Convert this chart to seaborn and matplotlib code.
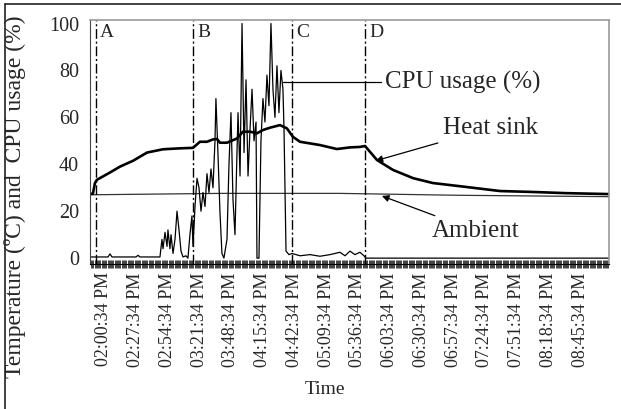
import matplotlib
matplotlib.use("Agg")
import matplotlib.pyplot as plt
from matplotlib.lines import Line2D
from matplotlib.ticker import MultipleLocator, FixedLocator
import seaborn as sns
import pandas as pd

# Minutes after 02:00:34 PM
cpu_t = [-11.9, -3.4, 3.4, 5.1, 6.8, 27.2, 28.9, 30.6, 47.6, 49.3, 50.2, 51.9, 53.6,
         54.4, 56.1, 57.0, 58.7, 60.4, 62.1, 63.8, 65.5, 67.2, 69.7, 71.4, 73.1, 74.8,
         75.7, 77.4, 79.1, 80.8, 82.5, 84.2, 85.9, 87.6, 89.3, 91.0, 92.7, 94.4, 95.2,
         96.9, 98.6, 100.3, 102.0, 104.6, 106.3, 108.0, 109.7, 111.4, 113.1, 114.0,
         115.7, 117.4, 119.1, 120.8, 122.5, 124.2, 125.9, 127.6, 129.3, 130.1, 131.8,
         133.5, 135.2, 136.9, 138.6, 140.3, 142.0, 143.7, 145.4, 147.1, 148.8, 150.5,
         152.2, 153.1, 154.8, 157.3, 159.9, 166.7, 175.2, 183.7, 192.2, 200.7, 205.0,
         209.2, 213.4, 217.7, 221.1, 222.8, 429.5]
cpu_v = [0.5, 0.5, 0.5, 1.8, 0.5, 0.5, 1.2, 0.5, 0.5, 8, 4, 11, 5,
         12, 4, 10, 2, 8, 20, 12, 3, 0.5, 1, 0, 10, 18,
         5, 22, 34, 30, 20, 28, 22, 36, 28, 38, 30, 50, 68,
         45, 20, 2, 0, 8, 40, 62, 25, 10, 45, 62,
         35, 100, 45, 76, 35, 55, 72, 50, 58, 0, 0,
         50, 68, 58, 78, 65, 100, 72, 60, 82, 62, 80,
         72, 55, 3, 1.5, 2, 1, 1.5, 0.8, 1.5, 2.5, 1,
         3, 1.5, 2.5, 1, 0, 0]

sink_t = [-11.9, -9.4, -7.7, -6.0, 5.1, 13.6, 24.7, 36.6, 50.2, 64.6, 75.7, 81.6, 87.6,
          92.7, 96.1, 98.6, 104.6, 113.1, 118.2, 124.2, 130.1, 135.2, 141.2, 149.7,
          155.6, 160.7, 166.7, 183.7, 198.1, 209.2, 217.7, 222.0, 232.2, 245.8, 262.8,
          279.8, 308.7, 336.8, 364.8, 393.1, 429.5]
sink_v = [27.3, 27.5, 32, 33.4, 36.5, 39, 41.5, 45, 46.4, 46.8, 47, 49.6, 49.6,
          50.6, 50.8, 49.2, 49.2, 51, 53.9, 53.9, 53.2, 54.6, 55.6, 56.7,
          55.3, 51.7, 49.6, 48.2, 46.5, 47.2, 47.4, 47.8, 41.8, 37.6, 34.1,
          32, 30.3, 28.6, 28.2, 27.7, 27.3]

amb_t = [-11.9, 100, 200, 300, 429.5]
amb_v = [27.0, 27.6, 27.6, 26.8, 26.2]

phase_t = [-6.8, 75.7, 159.9, 222.0]
phase_names = ["A", "B", "C", "D"]

tick_t = [0, 27, 54, 81, 108, 135, 162, 189, 216, 243, 270, 297, 324, 351, 378, 405]
tick_labels = ["02:00:34 PM", "02:27:34 PM", "02:54:34 PM", "03:21:34 PM",
               "03:48:34 PM", "04:15:34 PM", "04:42:34 PM", "05:09:34 PM",
               "05:36:34 PM", "06:03:34 PM", "06:30:34 PM", "06:57:34 PM",
               "07:24:34 PM", "07:51:34 PM", "08:18:34 PM", "08:45:34 PM"]

sns.set_style("white")
plt.rcParams["font.family"] = ["Liberation Serif", "DejaVu Serif"]

W, H = 621, 409
fig = plt.figure(figsize=(W / 100, H / 100), dpi=100)
ax = fig.add_axes([90 / W, 1 - 264 / H, (609 - 90) / W, (264 - 20) / H])

cpu = pd.DataFrame({"t": cpu_t, "v": cpu_v})
sink = pd.DataFrame({"t": sink_t, "v": sink_v})
amb = pd.DataFrame({"t": amb_t, "v": amb_v})

sns.lineplot(data=amb, x="t", y="v", ax=ax, color="#333333", lw=0.9,
             estimator=None, sort=False)
sns.lineplot(data=cpu, x="t", y="v", ax=ax, color="black", lw=0.9,
             estimator=None, sort=False)
sns.lineplot(data=sink, x="t", y="v", ax=ax, color="black", lw=1.9,
             estimator=None, sort=False)

for t, name in zip(phase_t, phase_names):
    ax.axvline(t, color="black", lw=1.0, linestyle=(0, (7, 2, 1.5, 2)))
    ax.annotate(name, xy=(t, 1), xycoords=("data", "axes fraction"),
                xytext=(3, -3), textcoords="offset points",
                ha="left", va="top", fontsize=14)

ax.set_xlim(-11.9, 429.5)
ax.set_ylim(-2.5, 101.5)
ax.set_yticks([0, 20, 40, 60, 80, 100])
ax.tick_params(axis="y", length=0, pad=8, labelsize=14.5)
ax.xaxis.set_major_locator(FixedLocator(tick_t))
ax.set_xticklabels(tick_labels, rotation=90)
ax.xaxis.set_minor_locator(MultipleLocator(1))
ax.tick_params(axis="x", which="both", bottom=True, direction="inout", length=6,
               width=0.6, color="#222222", labelsize=13, pad=3)
ax.set_xlabel("")
ax.set_ylabel("")

for side in ["top", "right"]:
    ax.spines[side].set_color("#999999")
    ax.spines[side].set_linewidth(1.2)
ax.spines["left"].set_color("#444444")
ax.spines["bottom"].set_color("black")

ann = dict(fontsize=18, ha="left", va="center")
ax.plot([152.2, 235.6], [75.1, 75.1], color="black", lw=0.9)
ax.text(239, 74.7, "CPU usage (%)", **ann)
ax.annotate("Heat sink", xy=(231, 41.5), xytext=(288.3, 55.5),
            arrowprops=dict(arrowstyle="-|>", color="black", lw=0.9,
                            mutation_scale=10, shrinkA=2, shrinkB=0), **ann)
ax.annotate("Ambient", xy=(236.4, 26.5), xytext=(278.9, 11.6),
            arrowprops=dict(arrowstyle="-|>", color="black", lw=0.9,
                            mutation_scale=10, shrinkA=2, shrinkB=0), **ann)

fig.text(15 / W, 1 - 197 / H, "Temperature (ºC) and  CPU usage (%)",
         rotation=90, ha="center", va="center", fontsize=17)
fig.text(325 / W, 1 - 390 / H, "Time", ha="center", va="center", fontsize=14)

# border around the whole graphic
fig.add_artist(Line2D([5 / W, 1], [1 - 4 / H, 1 - 4 / H], color="#222222", lw=1.2,
                      transform=fig.transFigure))
fig.add_artist(Line2D([5 / W, 5 / W], [0, 1 - 4 / H], color="#222222", lw=1.2,
                      transform=fig.transFigure))

fig.savefig("out.png", dpi=100)
